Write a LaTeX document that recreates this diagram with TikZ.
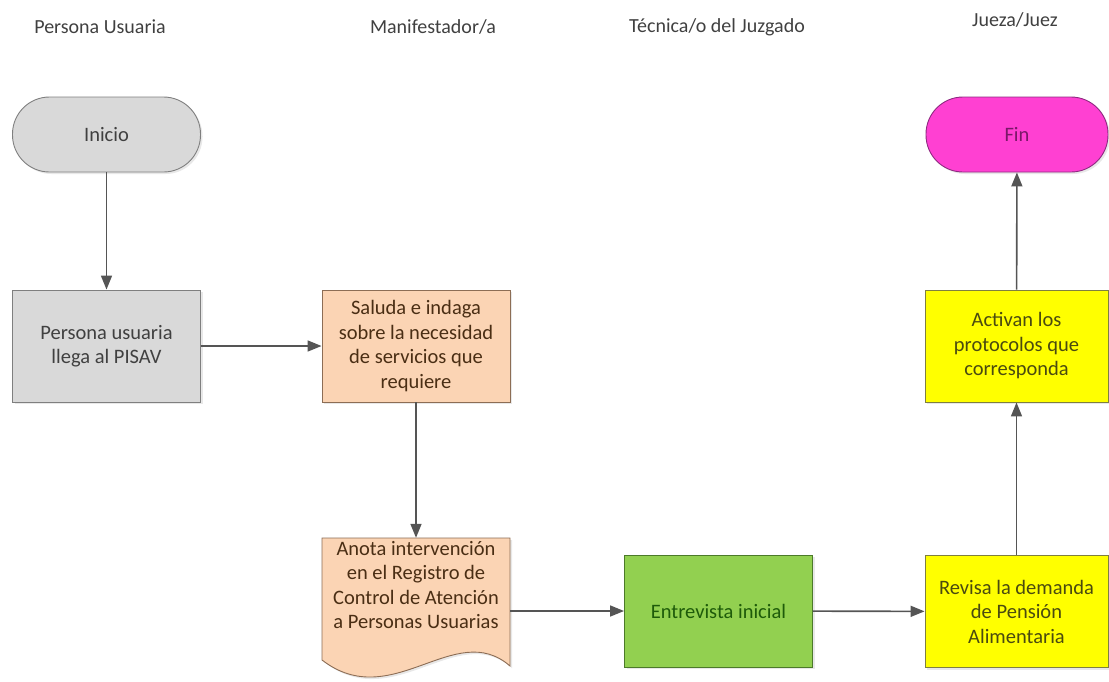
\documentclass[tikz,border=0pt]{standalone}
\usepackage{fontspec}
\setmainfont{Carlito}
\usepackage{tikz}
\usetikzlibrary{positioning,arrows.meta,calc,shadows}
\definecolor{graybox}{HTML}{D9D9D9}
\definecolor{grayline}{HTML}{7F7F7F}
\definecolor{peach}{HTML}{FBD4B4}
\definecolor{peachline}{HTML}{8C6D55}
\definecolor{peachtext}{HTML}{4A2E14}
\definecolor{leaf}{HTML}{92D050}
\definecolor{leafline}{HTML}{4C7A2A}
\definecolor{leaftext}{HTML}{1E5B0A}
\definecolor{lemon}{HTML}{FFFF00}
\definecolor{lemonline}{HTML}{7F7F40}
\definecolor{lemontext}{HTML}{4A4A10}
\definecolor{pinkend}{HTML}{FF40D2}
\definecolor{pinkline}{HTML}{8E2A80}
\definecolor{pinktext}{HTML}{7A1868}
\definecolor{inkgray}{HTML}{404040}
\definecolor{arrowgray}{HTML}{555555}
\tikzset{
  lane/.style    ={font=\fontsize{20}{24}\selectfont, text=inkgray},
  proc/.style    ={draw=#1line, fill=#1, line width=0.9pt, text=#1text,
                   font=\fontsize{20.5}{24.5}\selectfont, align=center,
                   minimum width=188pt, minimum height=112pt, inner sep=2pt,
                   drop shadow={opacity=0.18,shadow xshift=2pt,shadow yshift=-2pt}},
  term/.style    ={proc=#1, minimum height=75pt, rounded corners=37pt},
  docbox/.style  ={draw=peachline, fill=peach, line width=0.9pt,
                   drop shadow={opacity=0.18,shadow xshift=2pt,shadow yshift=-2pt}},
  flowarr/.style ={-{Triangle[length=14pt,width=11pt]}, line width=1.6pt, arrowgray},
}
\colorlet{grayboxline}{grayline}
\colorlet{grayboxtext}{inkgray}
\colorlet{pinkendline}{pinkline}
\colorlet{pinkendtext}{pinktext}
\begin{document}
\begin{tikzpicture}[x=1pt,y=-1pt]
\useasboundingbox (0,0) rectangle (1109,681);
% lane titles
\node[lane] (lu) at (100,27) {Persona Usuaria};
\node[lane] (lm) at (433,27) {Manifestador/a};
\node[lane] (lt) at (717,27) {Técnica/o del Juzgado};
\node[lane] (lj) at (1015,20) {Jueza/Juez};
% persona usuaria
\node[term=graybox] (ini) at (106.5,134.5) {Inicio};
\node[proc=graybox] (lleg) at (106.5,346) {Persona usuaria\\llega al PISAV};
% manifestador/a
\node[proc=peach] (sal) at (416,346) {Saluda e indaga\\sobre la necesidad\\de servicios que\\requiere};
\draw[docbox] (322,538) -- (510,538) -- (510,666)
  .. controls (455,618) and (392,714) .. (322,660) -- cycle;
\node[font=\fontsize{20.5}{24.5}\selectfont, text=peachtext, align=center,
      minimum width=188pt, minimum height=94pt, inner sep=2pt] (ano) at (416,585)
  {Anota intervención\\en el Registro de\\Control de Atención\\a Personas Usuarias};
% tecnica/o
\node[proc=leaf] (ent) at (718.5,611) {Entrevista inicial};
% jueza/juez
\node[proc=lemon, minimum width=183pt] (rev) at (1016.5,611.5) {Revisa la demanda\\de Pensión\\Alimentaria};
\node[proc=lemon, minimum width=183pt] (act) at (1016.5,346) {Activan los\\protocolos que\\corresponda};
\node[term=pinkend, minimum width=182pt] (fin) at (1017,134.5) {Fin};
% flow
\draw[flowarr] (ini) -- (lleg);
\draw[flowarr] (lleg) -- (sal);
\draw[flowarr] (sal) -- (ano);
\draw[flowarr] (ano.east |- ent) -- (ent);
\draw[flowarr] (ent) -- (rev);
\draw[flowarr] (rev) -- (act);
\draw[flowarr] (act) -- (fin);
\end{tikzpicture}
\end{document}
